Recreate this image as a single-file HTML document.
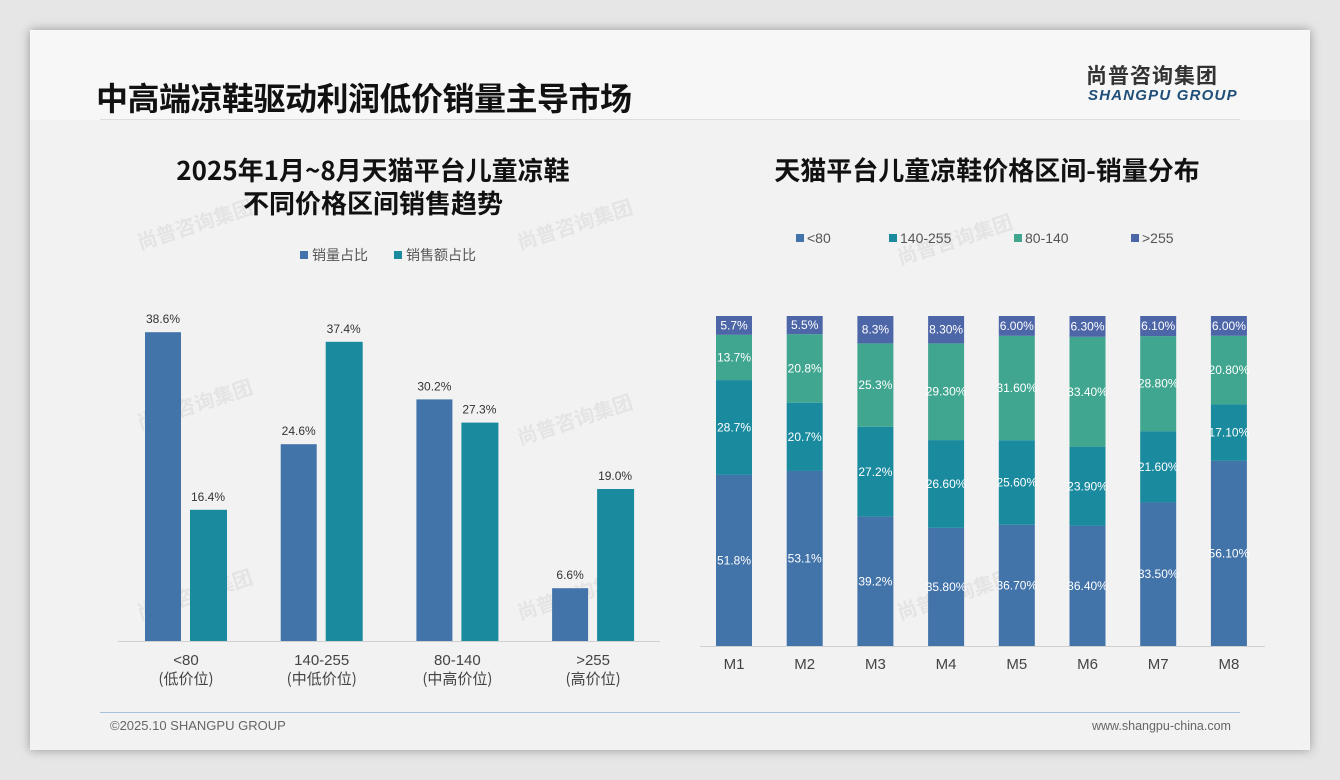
<!DOCTYPE html>
<html><head><meta charset="utf-8"><style>
body{margin:0;width:1340px;height:780px;background:#e6e6e6;font-family:"Liberation Sans","Noto Sans CJK SC",sans-serif;overflow:hidden;position:relative}
#slide{position:absolute;left:30px;top:30px;width:1280px;height:720px;background:#f2f2f2;box-shadow:0 0 10px rgba(0,0,0,0.35)}
.abs{position:absolute}
</style></head><body>
<div id="slide">
 <div class="abs" style="left:0;top:0;width:1280px;height:90px;background:#f7f7f7"></div>
 <div class="abs" style="left:66px;top:44px;font-size:32px;font-weight:bold;color:#111;font-family:'Noto Sans CJK SC',sans-serif;letter-spacing:-0.5px">中高端凉鞋驱动利润低价销量主导市场</div>
 <div class="abs" style="left:70px;top:89px;width:1140px;height:1px;background:#ddd"></div>
 <div class="abs" style="left:1056px;top:30px;font-size:21px;font-weight:bold;color:#333;letter-spacing:1px;font-family:'Noto Sans CJK SC',sans-serif">尚普咨询集团</div>
 <div class="abs" style="left:1058px;top:57px;font-size:15px;font-weight:bold;font-style:italic;color:#1f4e79;letter-spacing:1.2px">SHANGPU GROUP</div>
 <div class="abs" style="left:70px;top:682px;width:1140px;height:1px;background:#a9c0dc"></div>
 <div class="abs" style="left:80px;top:688px;font-size:13px;color:#666">©2025.10 SHANGPU GROUP</div>
 <div class="abs" style="left:1062px;top:689px;font-size:12.5px;color:#666">www.shangpu-china.com</div>
</div>
<svg class="abs" style="left:0;top:0" width="1340" height="780" id="svg">
 <g font-family="Liberation Sans, Noto Sans CJK SC, sans-serif" fill="#ccc" opacity="0.35" font-weight="bold">
  <text transform="translate(140,250) rotate(-18)" font-size="20">尚普咨询集团</text>
  <text transform="translate(520,250) rotate(-18)" font-size="20">尚普咨询集团</text>
  <text transform="translate(900,265) rotate(-18)" font-size="20">尚普咨询集团</text>
  <text transform="translate(520,445) rotate(-18)" font-size="20">尚普咨询集团</text>
  <text transform="translate(140,430) rotate(-18)" font-size="20">尚普咨询集团</text>
  <text transform="translate(520,620) rotate(-18)" font-size="20">尚普咨询集团</text>
  <text transform="translate(140,620) rotate(-18)" font-size="20">尚普咨询集团</text>
  <text transform="translate(900,620) rotate(-18)" font-size="20">尚普咨询集团</text>
 </g>
 <text x="373" y="180" text-anchor="middle" font-size="26" font-weight="bold" fill="#111" font-family="Noto Sans CJK SC, sans-serif">2025年1月~8月天猫平台儿童凉鞋</text>
 <text x="373" y="213" text-anchor="middle" font-size="26" font-weight="bold" fill="#111" font-family="Noto Sans CJK SC, sans-serif">不同价格区间销售趋势</text>
 <text x="987" y="180" text-anchor="middle" font-size="26" font-weight="bold" fill="#111" font-family="Noto Sans CJK SC, sans-serif">天猫平台儿童凉鞋价格区间-销量分布</text>
 <g id="left"></g><g id="right"></g>
</svg>
<script>
const cats=['<80','140-255','80-140','>255'];
const catSub=['(低价位)','(中低价位)','(中高价位)','(高价位)'];
const volShare=[38.6,24.6,30.2,6.6];
const salesShare=[16.4,37.4,27.3,19.0];
const months=['M1','M2','M3','M4','M5','M6','M7','M8'];
const sLow=[51.8,53.1,39.2,35.8,36.7,36.4,43.5,56.1];
const sMidLow=[28.7,20.7,27.2,26.6,25.6,23.9,21.6,17.1];
const sMidHigh=[13.7,20.8,25.3,29.3,31.6,33.4,28.8,20.8];
const sHigh=[5.7,5.5,8.3,8.3,6.0,6.3,6.1,6.0];
const lowLbl=['51.8%','53.1%','39.2%','35.80%','36.70%','36.40%','33.50%','56.10%'];
const midLowLbl=['28.7%','20.7%','27.2%','26.60%','25.60%','23.90%','21.60%','17.10%'];
const midHighLbl=['13.7%','20.8%','25.3%','29.30%','31.60%','33.40%','28.80%','20.80%'];
const highLbl=['5.7%','5.5%','8.3%','8.30%','6.00%','6.30%','6.10%','6.00%'];
const NS='http://www.w3.org/2000/svg';
function mk(p,t,a,txt){const e=document.createElementNS(NS,t);for(const k in a)e.setAttribute(k,a[k]);if(txt!==undefined)e.textContent=txt;p.appendChild(e);return e;}
const Lg=document.getElementById('left'),Rg=document.getElementById('right');
const BLUE='#4273a9',TEAL='#1a8a9e',GREEN='#40a690',PURP='#4d66a8';
const base=641,ppu=8;
const ly=v=>base-v*ppu;
const gx=i=>145+i*135.7;
let ax=mk(Lg,'line',{x1:118,x2:660,y1:641.5,y2:641.5,stroke:'#d0d0d0'});


cats.forEach((c,i)=>{
 let b=mk(Lg,'rect',{x:gx(i),y:ly(volShare[i]),width:36,height:volShare[i]*ppu,fill:BLUE});
 
 
 let t=mk(Lg,'text',{x:gx(i)+18,y:ly(volShare[i])-9,'text-anchor':'middle','font-size':12,fill:'#333'},volShare[i].toFixed(1)+'%');
 
 
 let b2=mk(Lg,'rect',{x:gx(i)+45,y:ly(salesShare[i]),width:37,height:salesShare[i]*ppu,fill:TEAL});
 
 
 let t2=mk(Lg,'text',{x:gx(i)+63,y:ly(salesShare[i])-9,'text-anchor':'middle','font-size':12,fill:'#333'},salesShare[i].toFixed(1)+'%');
 
 
 let c1=mk(Lg,'text',{x:gx(i)+41,y:665,'text-anchor':'middle','font-size':15,fill:'#444'},c);
 
 
 let c2=mk(Lg,'text',{x:gx(i)+41,y:684,'text-anchor':'middle','font-size':15,fill:'#444','font-family':'Noto Sans CJK SC, sans-serif'},catSub[i]);
 
 
});
[['销量占比',300,BLUE],['销售额占比',394,TEAL]].forEach(([n,x,col])=>{
 let r=mk(Lg,'rect',{x:x,y:251,width:8,height:8,fill:col});
 
 
 let t=mk(Lg,'text',{x:x+12,y:260,'font-size':14,fill:'#555','font-family':'Noto Sans CJK SC, sans-serif'},n);
 
 
});
const yTop=316,yBot=646,H=yBot-yTop;
const mx=i=>716+i*70.7;
let ax2=mk(Rg,'line',{x1:700,x2:1265,y1:646.5,y2:646.5,stroke:'#d0d0d0'});


const series=[[sLow,lowLbl,BLUE,'low'],[sMidLow,midLowLbl,TEAL,'midlow'],[sMidHigh,midHighLbl,GREEN,'midhigh'],[sHigh,highLbl,PURP,'high']];
months.forEach((m,i)=>{
 const tot=sLow[i]+sMidLow[i]+sMidHigh[i]+sHigh[i];
 let y=yBot;
 series.forEach(([arr,lbl,col,nm])=>{
  const h=arr[i]/tot*H;y-=h;
  let r=mk(Rg,'rect',{x:mx(i),y:y,width:36,height:h,fill:col});
  
  
  let t=mk(Rg,'text',{x:mx(i)+18,y:y+h/2+4,'text-anchor':'middle','font-size':12,fill:'#fff'},lbl[i]);
  
  
 });
 let t=mk(Rg,'text',{x:mx(i)+18,y:669,'text-anchor':'middle','font-size':15,fill:'#444'},m);
 
 
});
[['<80',796,BLUE],['140-255',889,TEAL],['80-140',1014,GREEN],['>255',1131,PURP]].forEach(([n,x,col])=>{
 let r=mk(Rg,'rect',{x:x,y:234,width:8,height:8,fill:col});
 
 
 let t=mk(Rg,'text',{x:x+11,y:243,'font-size':14,fill:'#555'},n);
 
 
});
</script>
</body></html>
